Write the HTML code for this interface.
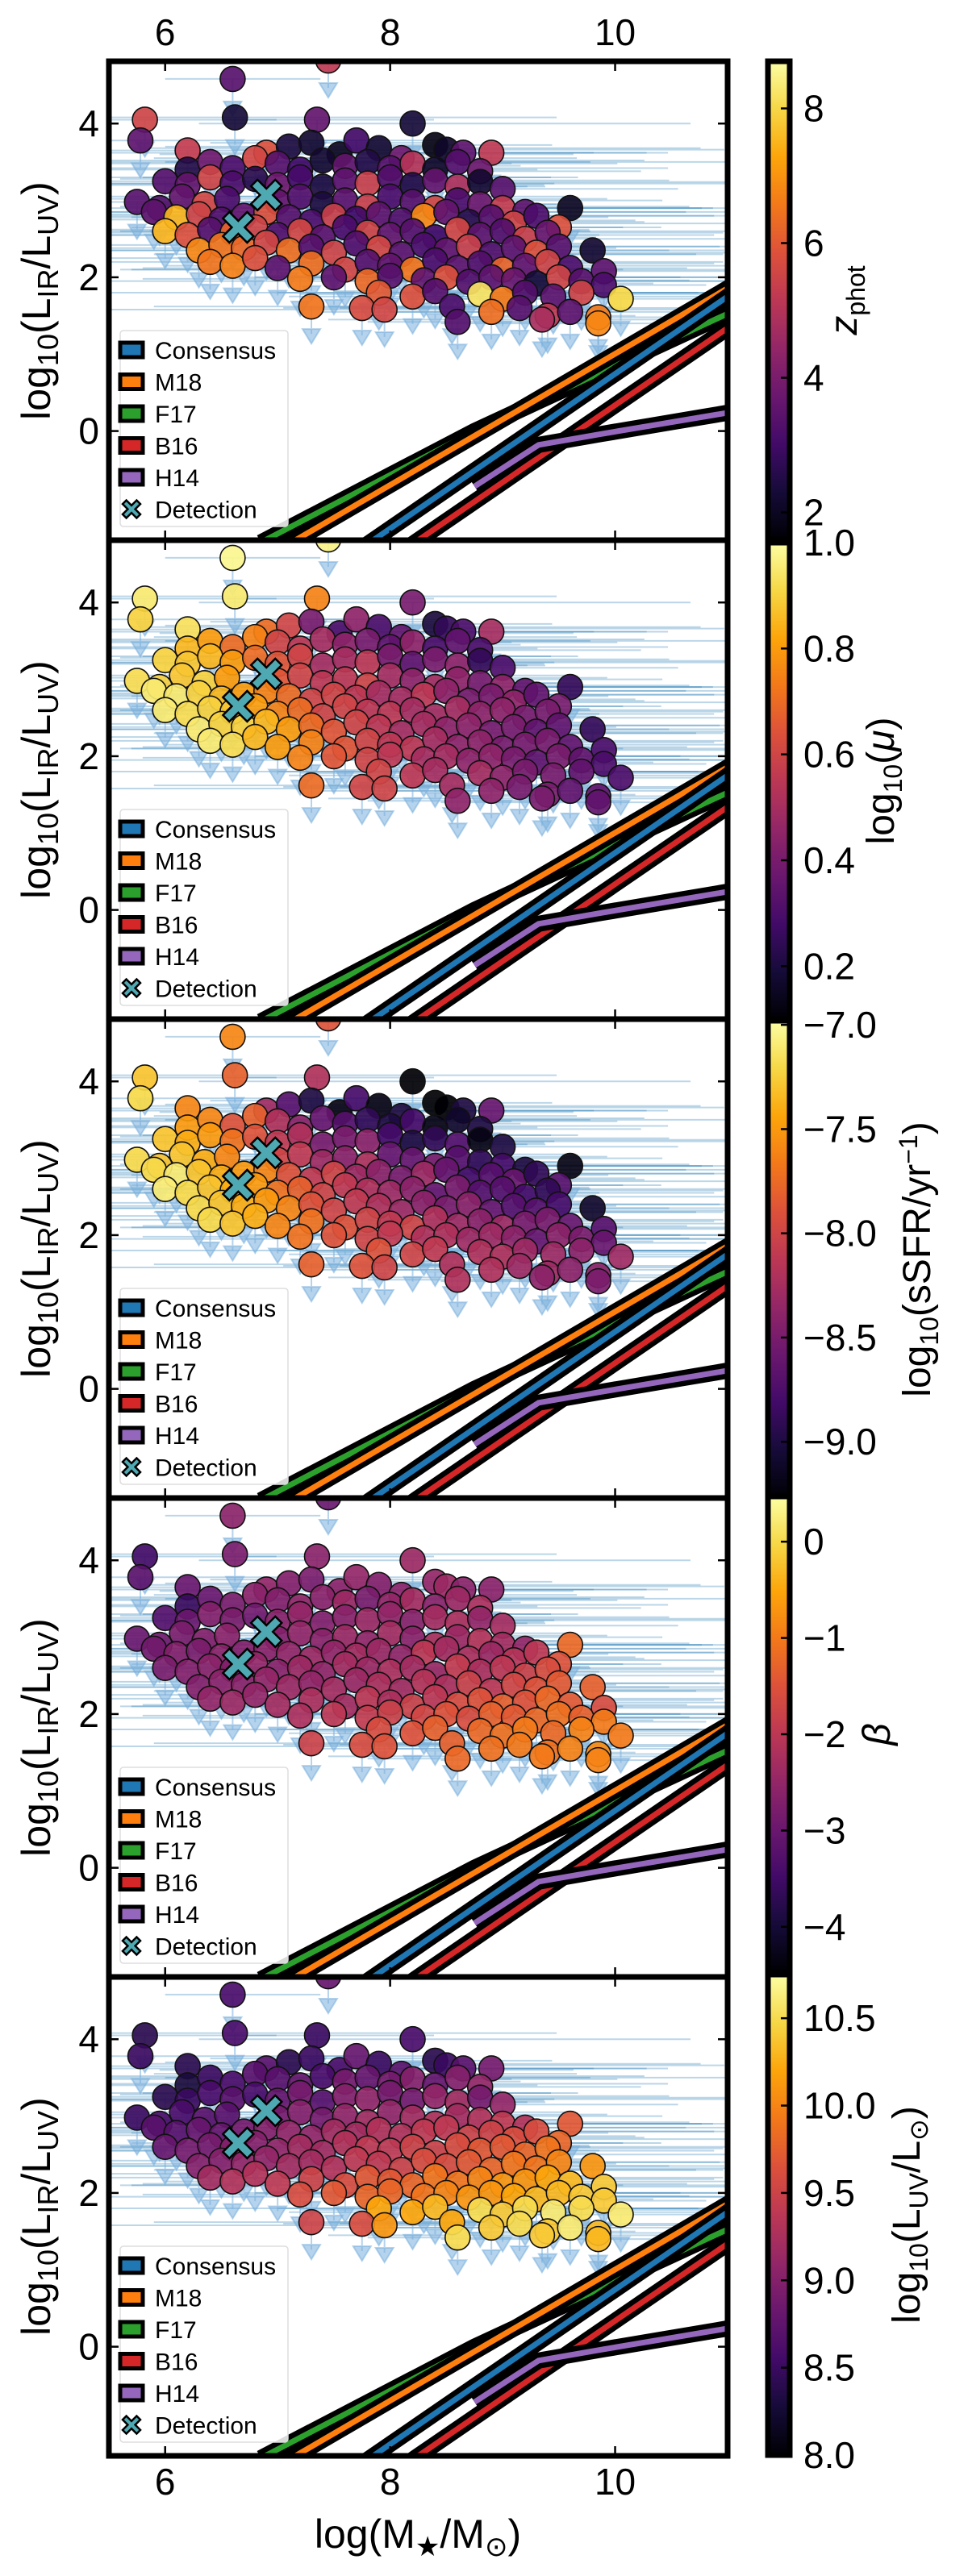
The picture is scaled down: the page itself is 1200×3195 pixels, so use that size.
<!DOCTYPE html>
<html><head><meta charset="utf-8"><style>
html,body{margin:0;padding:0;background:#fff;}
svg{display:block;font-family:"Liberation Sans","DejaVu Sans",sans-serif;}
</style></head><body>
<svg id="fig" xmlns="http://www.w3.org/2000/svg" width="1200" height="3195" viewBox="0 0 1200 3195"></svg>
<script>
// ---------- data ----------
const mass = [
5.82,5.78,6.6,6.62,7.45,7.35,8.2,6.2,8.9,
6.9,7.1,7.3,7.55,7.7,7.9,8.1,8.4,8.5,8.65,
6.2,6.4,6.6,6.8,7.0,7.2,7.4,7.6,7.8,8.0,8.2,8.4,8.6,8.8,
6.0,6.2,6.4,6.6,6.8,7.0,7.2,7.4,7.6,7.8,8.0,8.2,8.4,8.6,8.8,9.0,
5.75,5.95,6.15,6.35,6.55,7.0,7.2,7.4,7.6,7.8,8.0,8.2,8.4,8.6,8.8,9.0,9.2,9.6,
5.9,6.1,6.3,6.5,6.7,6.9,7.1,7.3,7.5,7.7,7.9,8.1,8.3,8.5,8.7,8.9,9.1,9.3,9.5,
6.0,6.2,6.4,6.6,6.8,7.0,7.2,7.4,7.6,7.8,8.0,8.2,8.4,8.6,8.8,9.0,9.2,9.4,
6.3,6.5,6.7,6.9,7.1,7.3,7.5,7.7,7.9,8.1,8.3,8.5,8.7,8.9,9.1,9.3,9.5,9.8,
6.4,6.6,6.8,7.0,7.3,7.6,7.8,8.0,8.2,8.4,8.6,8.8,9.0,9.2,9.4,9.6,9.9,
7.2,7.5,7.8,8.0,8.3,8.5,8.7,8.9,9.1,9.3,9.5,9.7,9.9,
7.9,8.2,8.4,8.8,9.0,9.2,9.45,9.7,10.05,
7.3,7.75,7.95,8.55,8.9,9.15,9.4,9.6,9.85,
8.6,9.35,9.85];
const ratio = [
4.05,3.78,4.58,4.08,4.82,4.05,4.0,3.65,3.62,
3.62,3.7,3.75,3.6,3.78,3.68,3.55,3.72,3.66,3.62,
3.4,3.5,3.42,3.55,3.48,3.4,3.52,3.45,3.5,3.42,3.48,3.4,3.5,3.38,
3.25,3.2,3.3,3.22,3.28,3.2,3.3,3.18,3.26,3.22,3.3,3.2,3.26,3.18,3.24,3.15,
2.98,2.9,3.05,2.95,3.02,2.98,3.05,2.95,3.0,2.92,3.05,2.98,2.9,3.0,2.95,2.9,2.85,2.9,
2.85,2.78,2.82,2.75,2.8,2.85,2.78,2.72,2.8,2.76,2.82,2.74,2.8,2.85,2.72,2.78,2.7,2.8,2.65,
2.6,2.55,2.62,2.58,2.65,2.55,2.6,2.52,2.65,2.58,2.55,2.6,2.52,2.62,2.55,2.6,2.5,2.58,
2.35,2.42,2.38,2.45,2.35,2.4,2.32,2.44,2.38,2.3,2.42,2.35,2.4,2.3,2.38,2.32,2.4,2.35,
2.2,2.15,2.25,2.12,2.18,2.1,2.2,2.15,2.1,2.22,2.12,2.18,2.1,2.15,2.2,2.12,2.08,
1.98,2.0,1.95,2.02,1.96,2.0,1.94,2.0,1.96,1.92,2.0,1.95,1.9,
1.8,1.75,1.82,1.78,1.72,1.8,1.75,1.8,1.72,
1.62,1.6,1.58,1.62,1.55,1.6,1.5,1.55,1.48,
1.42,1.45,1.4];
const zphot = [
5.5,3.5,3.4,2.3,5.2,3.6,2.3,5.3,5.2,
5.8,2.4,2.2,2.0,3.0,2.2,3.8,1.8,2.1,3.5,
2.5,3.8,3.2,5.6,3.4,3.0,2.2,3.6,2.5,3.4,5.0,2.1,3.3,3.8,
3.3,3.6,5.5,3.2,2.6,3.8,3.1,2.4,3.5,5.4,3.3,2.5,3.6,4.9,2.2,3.4,
3.4,3.3,3.6,5.6,3.2,3.6,3.3,2.4,3.5,5.4,3.2,3.4,5.6,3.2,3.8,5.3,3.5,2.0,
3.5,7.5,5.5,3.3,3.6,5.8,3.4,3.2,5.4,3.0,3.5,3.3,6.8,3.6,2.6,3.4,5.5,3.2,5.8,
7.5,5.8,3.4,6.2,5.5,3.3,5.6,3.5,3.2,5.5,3.6,3.4,3.0,5.6,3.5,3.3,5.4,3.7,
6.8,6.5,6.3,5.6,6.4,3.4,5.5,3.3,5.6,3.5,3.2,3.6,5.4,3.3,3.5,5.8,3.4,2.2,
6.5,6.7,5.8,3.5,6.4,5.6,3.4,3.6,6.5,3.2,3.5,3.3,6.2,3.6,5.5,3.2,3.5,
6.6,3.5,6.3,3.4,3.6,5.8,3.3,3.5,3.7,2.3,5.5,3.4,3.2,
6.0,5.8,3.4,8.2,6.6,3.3,3.5,5.5,8.0,
6.5,5.7,5.6,3.2,6.4,3.4,5.2,3.5,6.6,
3.3,4.8,6.8];
const logmu = [
0.95,0.9,0.98,0.95,0.97,0.75,0.4,0.93,0.5,
0.7,0.6,0.4,0.3,0.45,0.3,0.35,0.2,0.25,0.3,
0.85,0.8,0.7,0.75,0.6,0.55,0.5,0.45,0.4,0.35,0.45,0.3,0.35,0.3,
0.9,0.88,0.85,0.8,0.7,0.65,0.6,0.5,0.5,0.55,0.4,0.35,0.4,0.45,0.25,0.3,
0.92,0.9,0.88,0.9,0.8,0.65,0.6,0.55,0.55,0.6,0.5,0.45,0.5,0.45,0.4,0.45,0.35,0.25,
0.95,0.95,0.9,0.85,0.8,0.75,0.7,0.6,0.6,0.55,0.5,0.5,0.55,0.45,0.4,0.4,0.45,0.35,0.4,
0.95,0.92,0.9,0.88,0.8,0.75,0.7,0.6,0.6,0.55,0.55,0.5,0.5,0.5,0.45,0.45,0.4,0.4,
0.95,0.9,0.9,0.85,0.8,0.7,0.65,0.6,0.55,0.5,0.5,0.45,0.45,0.4,0.4,0.35,0.35,0.25,
0.95,0.92,0.85,0.8,0.75,0.65,0.6,0.55,0.55,0.5,0.45,0.45,0.4,0.4,0.4,0.35,0.3,
0.75,0.65,0.6,0.55,0.5,0.5,0.45,0.45,0.4,0.35,0.4,0.35,0.3,
0.6,0.55,0.5,0.5,0.45,0.4,0.4,0.35,0.3,
0.7,0.6,0.6,0.5,0.45,0.4,0.4,0.35,0.35,
0.45,0.4,0.35];
const ssfr = [
-7.3,-7.2,-7.6,-7.8,-7.9,-8.2,-9.3,-7.6,-8.6,
-8.3,-8.7,-9.0,-9.2,-8.8,-9.2,-9.0,-9.3,-9.3,-9.0,
-7.5,-7.6,-7.9,-7.8,-8.2,-8.4,-8.6,-8.7,-8.9,-9.0,-8.8,-9.2,-9.1,-9.0,
-7.3,-7.4,-7.5,-7.7,-7.9,-8.1,-8.2,-8.5,-8.5,-8.4,-8.8,-9.0,-8.9,-8.7,-9.2,-9.0,
-7.2,-7.3,-7.3,-7.4,-7.6,-8.0,-8.1,-8.3,-8.4,-8.2,-8.6,-8.6,-8.5,-8.7,-8.9,-8.8,-9.0,-9.2,
-7.2,-7.1,-7.3,-7.4,-7.5,-7.6,-7.9,-8.1,-8.0,-8.3,-8.4,-8.5,-8.3,-8.6,-8.8,-8.7,-8.6,-8.9,-8.7,
-7.1,-7.2,-7.3,-7.4,-7.5,-7.7,-7.8,-8.0,-8.1,-8.2,-8.3,-8.4,-8.6,-8.5,-8.7,-8.7,-8.8,-8.9,
-7.2,-7.3,-7.4,-7.5,-7.6,-7.9,-8.0,-8.1,-8.2,-8.3,-8.4,-8.5,-8.4,-8.6,-8.7,-8.7,-8.8,-9.1,
-7.2,-7.3,-7.4,-7.6,-7.7,-7.9,-8.0,-8.1,-8.0,-8.2,-8.3,-8.4,-8.3,-8.5,-8.5,-8.6,-8.7,
-7.7,-7.9,-8.0,-8.1,-8.2,-8.2,-8.3,-8.3,-8.4,-8.6,-8.4,-8.5,-8.6,
-7.9,-8.0,-8.1,-8.2,-8.2,-8.3,-8.3,-8.4,-8.3,
-7.8,-7.9,-8.0,-8.2,-8.2,-8.3,-8.3,-8.4,-8.4,
-8.2,-8.4,-8.5];
const beta = [
-3.5,-3.2,-2.6,-2.8,-3.0,-2.6,-2.4,-3.0,-2.6,
-2.5,-2.7,-2.8,-2.6,-2.5,-2.7,-2.6,-2.5,-2.4,-2.6,
-3.6,-3.0,-2.8,-2.6,-2.7,-2.5,-2.6,-2.4,-2.8,-2.5,-2.3,-2.6,-2.4,-2.2,
-3.3,-3.0,-2.7,-2.8,-2.9,-2.6,-2.5,-2.7,-2.6,-2.4,-2.5,-2.6,-2.3,-2.2,-2.5,-2.3,
-3.0,-2.9,-2.8,-2.7,-2.6,-2.7,-2.5,-2.6,-2.4,-2.5,-2.3,-2.6,-2.2,-2.4,-2.1,-2.3,-2.5,-1.2,
-2.9,-2.7,-2.8,-2.6,-2.7,-2.6,-2.5,-2.4,-2.5,-2.3,-2.4,-2.5,-2.0,-2.3,-2.2,-2.4,-2.1,-2.0,-1.5,
-2.8,-2.7,-2.6,-2.7,-2.5,-2.6,-2.4,-2.5,-2.3,-2.4,-2.2,-2.3,-2.4,-1.9,-2.2,-2.0,-1.8,-1.6,
-2.7,-2.6,-2.6,-2.5,-2.4,-2.5,-2.3,-2.4,-2.2,-2.3,-2.1,-2.2,-1.8,-2.0,-1.7,-1.5,-1.4,-1.3,
-2.5,-2.4,-2.5,-2.3,-2.2,-2.3,-2.0,-2.2,-1.8,-2.0,-1.6,-1.5,-1.3,-1.5,-1.2,-1.4,-1.6,
-2.2,-2.0,-1.9,-1.8,-1.7,-1.5,-1.6,-1.3,-1.4,-1.2,-1.1,-1.3,-1.0,
-1.6,-1.5,-1.3,-1.2,-1.1,-1.0,-1.2,-0.9,-1.0,
-1.8,-1.6,-1.5,-1.3,-1.1,-1.0,-1.1,-0.9,-0.8,
-1.2,-1.0,-0.9];
const luv = [
8.4,8.5,8.6,8.6,8.8,8.5,8.6,8.4,8.9,
8.7,8.4,8.5,8.6,8.8,8.5,8.7,8.4,8.5,8.7,
8.3,8.5,8.6,8.7,8.7,8.8,8.6,8.9,8.8,8.9,9.0,8.8,9.0,9.1,
8.4,8.5,8.6,8.7,8.6,8.8,8.9,8.7,9.0,9.1,8.9,8.9,9.1,9.2,8.9,9.1,
8.5,8.6,8.6,8.7,8.7,8.9,9.0,8.9,9.1,9.2,9.1,9.2,9.3,9.2,9.3,9.4,9.3,9.7,
8.7,8.7,8.8,8.8,8.9,9.0,9.1,9.1,9.2,9.2,9.3,9.3,9.4,9.4,9.5,9.5,9.6,9.6,9.8,
8.8,8.9,8.9,9.0,9.0,9.1,9.2,9.2,9.3,9.4,9.4,9.5,9.5,9.6,9.7,9.7,9.8,9.9,
9.0,9.0,9.1,9.1,9.2,9.2,9.3,9.4,9.4,9.5,9.6,9.6,9.7,9.8,9.9,9.9,10.0,10.1,
9.2,9.3,9.3,9.4,9.5,9.6,9.7,9.7,9.8,9.9,9.9,10.0,10.1,10.1,10.2,10.3,10.4,
9.6,9.7,9.8,9.8,9.9,10.0,10.1,10.1,10.2,10.3,10.3,10.4,10.4,
10.2,10.2,10.3,10.5,10.4,10.5,10.6,10.5,10.6,
9.5,9.6,10.1,10.2,10.4,10.5,10.4,10.6,10.3,
10.5,10.4,10.3];
const xerrPattern = [0.9,1.6,0.6,2.2,1.2,0.8,1.9,1.4,0.7,2.6,1.1];
const detMass = [6.65, 6.9];
const detRatio = [2.65, 3.07];
const consX=[7.8,11.05], consY=[-1.47,1.8];
const m18X=[7.1,11.05], m18Y=[-1.47,1.9];
const f17X=[6.85,8.75,11.05], f17Y=[-1.45,0,1.56];
const b16X=[8.2,11.05], b16Y=[-1.47,1.39];
const h14X=[8.75,9.32,9.87,10.44,11.05], h14Y=[-0.72,-0.18,-0.04,0.1,0.25];
const xTicks=[6,8,10], yTicks=[0,2,4];
const cbRanges=[[1.6,8.7],[0.1,1.0],[-9.27,-6.98],[-4.47,0.47],[8.0,10.75]];
const cbTicks=[[2,4,6,8],[0.2,0.4,0.6,0.8,1.0],[-9.0,-8.5,-8.0,-7.5,-7.0],[-4,-3,-2,-1,0],[8.0,8.5,9.0,9.5,10.0,10.5]];
const cbTickLabels=[["2","4","6","8"],["0.2","0.4","0.6","0.8","1.0"],["\u22129.0","\u22128.5","\u22128.0","\u22127.5","\u22127.0"],["\u22124","\u22123","\u22122","\u22121","0"],["8.0","8.5","9.0","9.5","10.0","10.5"]];
const colorVals=[zphot,logmu,ssfr,beta,luv];

// ---------- helpers ----------
const NS="http://www.w3.org/2000/svg";
const svg=document.getElementById('fig');
function mk(tag,attrs,parent){const e=document.createElementNS(NS,tag);for(const k in attrs)e.setAttribute(k,attrs[k]);(parent||svg).appendChild(e);return e;}
const X0=135,X1=902,XMIN=5.5,XMAX=11.0,PH=594,YMIN=-1.42,YMAX=4.81;
function sx(v){return X0+(v-XMIN)/(XMAX-XMIN)*(X1-X0);}
function sy(v,top){return top+(YMAX-v)/(YMAX-YMIN)*PH;}
const inf=[[0,0,0,4],[0.1,22,11,57],[0.2,66,10,104],[0.3,106,23,110],[0.4,147,38,103],[0.5,188,55,84],[0.6,221,81,58],[0.7,243,120,25],[0.8,252,165,10],[0.9,246,215,70],[1,252,255,164]];
function inferno(t){t=Math.max(0,Math.min(1,t));for(let i=1;i<inf.length;i++){if(t<=inf[i][0]){const a=inf[i-1],b=inf[i],f=(t-a[0])/(b[0]-a[0]);return `rgb(${Math.round(a[1]+f*(b[1]-a[1]))},${Math.round(a[2]+f*(b[2]-a[2]))},${Math.round(a[3]+f*(b[3]-a[3]))})`;}}return 'rgb(252,255,164)';}

// gradient defs
const defs=mk('defs',{});
const grad=mk('linearGradient',{id:'infg',x1:0,y1:1,x2:0,y2:0},defs);
for(let i=0;i<=20;i++){mk('stop',{offset:(i/20),'stop-color':inferno(i/20)},grad);}

const cbTops=[76,673,1266,1856,2449], cbBots=[669,1264,1858,2446,3045];
const cbLabelX=[1062,1108,1153,1103,1140];
const cbLabels=[
 '<tspan font-style="italic">z</tspan><tspan font-size="32" dy="10">phot</tspan>',
 'log<tspan font-size="32" dy="10">10</tspan><tspan dy="-10">(</tspan><tspan font-style="italic">μ</tspan>)',
 'log<tspan font-size="32" dy="10">10</tspan><tspan dy="-10">(sSFR/yr</tspan><tspan font-size="32" dy="-16">−1</tspan><tspan dy="16">)</tspan>',
 '<tspan font-style="italic">β</tspan>',
 'log<tspan font-size="32" dy="10">10</tspan><tspan dy="-10">(L</tspan><tspan font-size="32" dy="10">UV</tspan><tspan dy="-10">/L</tspan><tspan font-size="32" dy="10">⊙</tspan><tspan dy="-10">)</tspan>'];
const cbNames=['zphot','log-mu','ssfr','beta','luv'];

function drawLine(g,xs,ys,top,col,name){
  const pts=xs.map((x,i)=>sx(x)+','+sy(ys[i],top)).join(' ');
  const a=mk('polyline',{points:pts,fill:'none',stroke:'#000','stroke-width':20,'stroke-linejoin':'miter'},g);
  
  
  const b=mk('polyline',{points:pts,fill:'none',stroke:col,'stroke-width':7},g);
  
  
}
function xMarker(g,cx,cy,s,name){
  const k=s, w=s*0.42;
  const d=`M${cx-k},${cy-k+w} L${cx-k+w},${cy-k} L${cx},${cy-w} L${cx+k-w},${cy-k} L${cx+k},${cy-k+w} L${cx+w},${cy} L${cx+k},${cy+k-w} L${cx+k-w},${cy+k} L${cx},${cy+w} L${cx-k+w},${cy+k} L${cx-k},${cy+k-w} L${cx-w},${cy} Z`;
  const p=mk('path',{d:d,fill:'#4fa9b2',stroke:'#000','stroke-width':2.5},g);
  
  
}

for(let p=0;p<5;p++){
  const top=76+PH*p;
  const g=mk('g',{});
  
  
  const cid='clip'+p;
  const cp=mk('clipPath',{id:cid},defs);mk('rect',{x:X0,y:top,width:X1-X0,height:PH},cp);
  const inner=mk('g',{'clip-path':`url(#${cid})`},g);
  // error bars
  for(let i=0;i<mass.length;i++){
    const e=xerrPattern[i%xerrPattern.length];
    const l=mk('line',{x1:sx(mass[i]-e),x2:sx(mass[i]+e*1.3),y1:sy(ratio[i],top),y2:sy(ratio[i],top),stroke:'rgba(31,119,180,0.3)','stroke-width':2},inner);
    
    
  }
  // upper-limit arrows
  for(let i=0;i<mass.length;i++){
    const x=sx(mass[i]),y=sy(ratio[i],top);
    const a=mk('path',{d:`M${x},${y} L${x},${y+34} M${x-11},${y+28} L${x+11},${y+28} L${x},${y+46} Z`,fill:'rgba(120,175,220,0.55)',stroke:'rgba(120,175,220,0.55)','stroke-width':2},inner);
    
    
  }
  // points
  const cv=colorVals[p],cr=cbRanges[p];
  for(let i=0;i<mass.length;i++){
    const c=mk('circle',{cx:sx(mass[i]),cy:sy(ratio[i],top),r:15.5,fill:inferno((cv[i]-cr[0])/(cr[1]-cr[0])),'fill-opacity':0.92,stroke:'#111','stroke-width':1.6},inner);
    
    
  }
  for(let i=0;i<detMass.length;i++) xMarker(inner,sx(detMass[i]),sy(detRatio[i],top),19,'detection-marker');
  // relations
  drawLine(inner,f17X,f17Y,top,'#2ca02c','f17');
  drawLine(inner,m18X,m18Y,top,'#ff7f0e','m18');
  drawLine(inner,consX,consY,top,'#1f77b4','consensus');
  drawLine(inner,b16X,b16Y,top,'#d62728','b16');
  drawLine(inner,h14X,h14Y,top,'#9467bd','h14');
  // frame
  const fr=mk('rect',{x:X0,y:top,width:X1-X0,height:PH,fill:'none',stroke:'#000','stroke-width':7},g);
  
  
  // ticks
  xTicks.forEach(t=>{const x=sx(t);
    const a=mk('line',{x1:x,x2:x,y1:top,y2:top+12,stroke:'#000','stroke-width':2.5},g);
    const b=mk('line',{x1:x,x2:x,y1:top+PH,y2:top+PH-12,stroke:'#000','stroke-width':2.5},g);});
  yTicks.forEach((t,k)=>{const y=sy(t,top);
    const a=mk('line',{x1:X0,x2:X0+12,y1:y,y2:y,stroke:'#000','stroke-width':2.5},g);
    const b=mk('line',{x1:X1,x2:X1-12,y1:y,y2:y,stroke:'#000','stroke-width':2.5},g);
    const tx=mk('text',{x:X0-12,y:y+16,'text-anchor':'end','font-size':46},g);tx.textContent=String(t);
    });
  // y label
  const yl=mk('text',{transform:`translate(62,${top+PH/2}) rotate(-90)`,'text-anchor':'middle','font-size':50},g);
  yl.innerHTML='log<tspan font-size="36" dy="10">10</tspan><tspan dy="-10">(L</tspan><tspan font-size="36" dy="10">IR</tspan><tspan dy="-10">/L</tspan><tspan font-size="36" dy="10">UV</tspan><tspan dy="-10">)</tspan>';
  
  // legend
  const lg=mk('g',{},g);
  const lb=mk('rect',{x:149,y:top+334,width:208,height:243,rx:4,fill:'rgba(255,255,255,0.85)',stroke:'#ddd','stroke-width':1.5},lg);
  
  const labs=['Consensus','M18','F17','B16','H14','Detection'],cols=['#1f77b4','#ff7f0e','#2ca02c','#d62728','#9467bd',null];
  labs.forEach((L,k)=>{const yy=top+358+39.5*k;
    if(cols[k]){const h=mk('rect',{x:149,y:yy-9,width:28,height:18,fill:cols[k],stroke:'#000','stroke-width':5},lg);}
    else xMarker(lg,163,yy,11,'legend-handle');
    const t=mk('text',{x:192,y:yy+11,'font-size':30},lg);t.textContent=L;
    });
  // colorbar
  const ct=cbTops[p],cb=cbBots[p];
  const cbg=mk('g',{},svg);
  mk('rect',{x:952,y:ct,width:27,height:cb-ct,fill:'url(#infg)',stroke:'#000','stroke-width':7},cbg);
  cbTicks[p].forEach((t,k)=>{const y=cb-(t-cr[0])/(cr[1]-cr[0])*(cb-ct);
    mk('line',{x1:968,x2:979,y1:y,y2:y,stroke:'#000','stroke-width':2.5},cbg);
    const tx=mk('text',{x:996,y:y+16,'font-size':46},cbg);tx.textContent=cbTickLabels[p][k];
    });
  const cl=mk('text',{transform:`translate(${cbLabelX[p]},${(ct+cb)/2}) rotate(-90)`,'text-anchor':'middle','font-size':48},cbg);
  cl.innerHTML=cbLabels[p];
  
}
// top & bottom x tick labels
xTicks.forEach(t=>{
  const a=mk('text',{x:sx(t),y:56,'text-anchor':'middle','font-size':46});a.textContent=String(t);
  
  const b=mk('text',{x:sx(t),y:3094,'text-anchor':'middle','font-size':46});b.textContent=String(t);
  
});
const xl=mk('text',{x:518,y:3160,'text-anchor':'middle','font-size':50});
xl.innerHTML='log(M<tspan font-size="34" dy="10">★</tspan><tspan dy="-10">/M</tspan><tspan font-size="34" dy="10">⊙</tspan><tspan dy="-10">)</tspan>';


</script>
</body></html>
